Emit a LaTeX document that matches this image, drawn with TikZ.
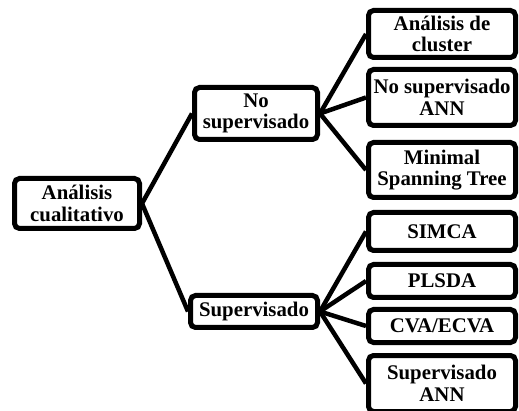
\documentclass[tikz,border=0pt]{standalone}
\usepackage{fontspec}
\setmainfont{Liberation Serif}
\begin{document}
\begin{tikzpicture}[x=1pt,y=-1pt,
  box/.style={draw=black, line width=5pt, rounded corners=5pt, fill=white,
    align=center, inner sep=0pt, font=\fontsize{20.8}{21.5}\selectfont\bfseries},
  link/.style={draw=black, line width=4.5pt}]
\useasboundingbox (0,0) rectangle (519,411);
% root
\node[box, minimum width=125pt, minimum height=50pt] (root) at (77,203.5) {Análisis\\cualitativo};
% second level
\node[box, minimum width=123pt, minimum height=52pt] (nosup) at (256,113.5) {No\\supervisado};
\node[box, minimum width=127pt, minimum height=32pt] (sup) at (254,311.5) {Supervisado};
% leaves of the unsupervised branch
\node[box, minimum width=147pt, minimum height=47pt] (clus) at (442,34) {Análisis de\\cluster};
\node[box, minimum width=147pt, minimum height=56pt] (nsann) at (442,97.5) {No supervisado\\ANN};
\node[box, minimum width=147pt, minimum height=55pt] (mst) at (442,170) {Minimal\\Spanning Tree};
% leaves of the supervised branch
\node[box, minimum width=147pt, minimum height=38pt] (simca) at (442,231.5) {SIMCA};
\node[box, minimum width=147pt, minimum height=33pt] (plsda) at (442,281) {PLSDA};
\node[box, minimum width=147pt, minimum height=33pt] (cva) at (442,326) {CVA/ECVA};
\node[box, minimum width=147pt, minimum height=56pt] (sann) at (442,383.5) {Supervisado\\ANN};
% connectors
\draw[link] (root.east) -- (nosup.west);
\draw[link] (root.east) -- (sup.west);
\draw[link] (nosup.east) -- (clus.west);
\draw[link] (nosup.east) -- (nsann.west);
\draw[link] (nosup.east) -- (mst.west);
\draw[link] (sup.east) -- (simca.west);
\draw[link] (sup.east) -- (plsda.west);
\draw[link] (sup.east) -- (cva.west);
\draw[link] (sup.east) -- (sann.west);
\end{tikzpicture}
\end{document}
